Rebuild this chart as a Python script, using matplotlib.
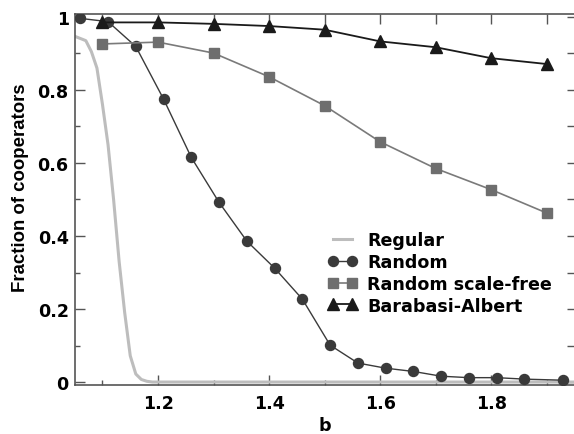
import matplotlib
matplotlib.use("Agg")
import matplotlib.pyplot as plt
from matplotlib.ticker import MultipleLocator, NullFormatter

plt.rcParams['font.family'] = ['DejaVu Sans']
plt.rcParams['font.weight'] = 'bold'

# ---- data ----
regular_b = [1.05, 1.06, 1.07, 1.08, 1.09, 1.10, 1.11, 1.12, 1.13, 1.14,
             1.15, 1.16, 1.17, 1.18, 1.19, 1.3, 1.5, 1.7, 1.95]
regular_f = [0.947, 0.941, 0.935, 0.905, 0.86, 0.76, 0.65, 0.50, 0.33, 0.19,
             0.072, 0.022, 0.007, 0.002, 0.0, 0.0, 0.0, 0.0, 0.0]

random_b = [1.06, 1.11, 1.16, 1.21, 1.26, 1.31, 1.36, 1.41, 1.46, 1.51,
            1.56, 1.61, 1.66, 1.71, 1.76, 1.81, 1.86, 1.93]
random_f = [0.996, 0.987, 0.919, 0.775, 0.615, 0.492, 0.386, 0.312, 0.227, 0.101,
            0.052, 0.038, 0.029, 0.016, 0.012, 0.012, 0.008, 0.005]

sf_b = [1.1, 1.2, 1.3, 1.4, 1.5, 1.6, 1.7, 1.8, 1.9]
sf_f = [0.926, 0.931, 0.901, 0.836, 0.757, 0.658, 0.585, 0.527, 0.463]

ba_b = [1.1, 1.2, 1.3, 1.4, 1.5, 1.6, 1.7, 1.8, 1.9]
ba_f = [0.985, 0.985, 0.981, 0.975, 0.965, 0.933, 0.917, 0.887, 0.871]

labels = ["Regular", "Random", "Random scale-free", "Barabasi-Albert"]
x_ticks = [1.2, 1.4, 1.6, 1.8]
y_ticks = [0, 0.2, 0.4, 0.6, 0.8, 1]
y_tick_labels = ["0", "0.2", "0.4", "0.6", "0.8", "1"]

FS = 12.6

W, H = 574, 435
fig = plt.figure(figsize=(W / 100, H / 100), dpi=100)
ax = fig.add_axes([75 / W, 1 - 385.6 / H, (575 - 75) / W, (385.6 - 15) / H])

ax.plot(regular_b, regular_f, color='#bdbdbd', lw=2.2, label=labels[0], zorder=2)
ax.plot(random_b, random_f, color='#3a3a3a', lw=1.0, marker='o', ms=7.2,
        mec='#3a3a3a', mfc='#3a3a3a', label=labels[1], zorder=3)
ax.plot(sf_b, sf_f, color='#7a7a7a', lw=1.2, marker='s', ms=7.0,
        mec='#6e6e6e', mfc='#6e6e6e', label=labels[2], zorder=3)
ax.plot(ba_b, ba_f, color='#1a1a1a', lw=1.3, marker='^', ms=8.5,
        mec='#1a1a1a', mfc='#1a1a1a', label=labels[3], zorder=4)

ax.set_xlim(1.0505, 1.951)
ax.set_ylim(-0.007, 1.008)

ax.set_xticks(x_ticks)
ax.set_xticklabels([f"{v:.1f}" for v in x_ticks])
ax.set_yticks(y_ticks)
ax.set_yticklabels(y_tick_labels)
ax.xaxis.set_minor_locator(MultipleLocator(0.1))
ax.yaxis.set_minor_locator(MultipleLocator(0.1))

spine_c = '#555555'
for s in ['left', 'bottom', 'top']:
    ax.spines[s].set_color(spine_c)
    ax.spines[s].set_linewidth(1.2)
ax.spines['right'].set_visible(False)

ax.tick_params(which='both', direction='in', color=spine_c, width=1.0,
               labelsize=FS, top=False, right=False)
ax.tick_params(which='major', length=7.2)
ax.tick_params(which='minor', length=3.6)
ax.tick_params(axis='x', pad=7.0)
ax.tick_params(axis='y', pad=4.5)
for t in ax.get_xticklabels() + ax.get_yticklabels():
    t.set_fontweight('bold')

# top and right ticks (all same length)
secx = ax.secondary_xaxis('top')
secx.set_xticks([1.1, 1.2, 1.3, 1.4, 1.5, 1.6, 1.7, 1.8, 1.9])
secx.xaxis.set_major_formatter(NullFormatter())
secx.tick_params(direction='in', length=7.2, width=1.0, color=spine_c)
secx.spines['top'].set_visible(False)
secy = ax.secondary_yaxis('right')
secy.set_yticks([0, 0.1, 0.2, 0.3, 0.4, 0.5, 0.6, 0.7, 0.8, 0.9, 1.0])
secy.yaxis.set_major_formatter(NullFormatter())
secy.tick_params(direction='in', length=6, width=1.0, color=spine_c)
secy.spines['right'].set_visible(False)

ax.set_xlabel("b", fontsize=FS, fontweight='bold', labelpad=3)
ax.set_ylabel("Fraction of cooperators", fontsize=13.4, fontweight='bold',
              family=['Liberation Sans', 'DejaVu Sans'])
ax.yaxis.set_label_coords((29 - 75) / 500, (385.6 - 187.5) / 370.6)

leg = ax.legend(loc='upper left', bbox_to_anchor=(328 / W, 1 - 232 / H),
                bbox_transform=fig.transFigure, frameon=False, numpoints=2,
                borderpad=0, borderaxespad=0, handlelength=1.65,
                handletextpad=0.6, labelspacing=0.22,
                prop={'size': FS, 'weight': 'bold'})

fig.savefig("out.png", dpi=100)
